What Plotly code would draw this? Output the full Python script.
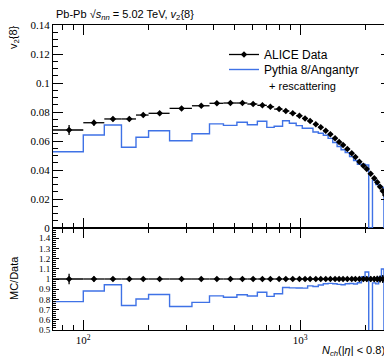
import plotly.graph_objects as go

# ---------------- data ----------------
bin_edges = [70, 100, 125, 150, 175, 200, 250, 317, 382, 443, 511, 571, 635, 702, 759,
             830, 892, 959, 1023, 1083, 1146, 1213, 1279, 1346, 1414, 1481, 1545, 1614,
             1690, 1764, 1837, 1917, 1993, 2072, 2156, 2232, 2302, 2371, 2435, 2495, 2551, 2605]

alice_x = [86, 112, 137, 163, 189, 225, 284, 350, 413, 477, 542, 607, 670, 729, 800, 859,
           925, 993, 1054, 1112, 1181, 1245, 1313, 1379, 1449, 1513, 1578, 1651, 1730, 1798,
           1876, 1958, 2029, 2116, 2197, 2268, 2337, 2405, 2466, 2525, 2578]

alice_v2 = [0.0676, 0.0726, 0.0752, 0.0752, 0.0779, 0.0791, 0.0825, 0.0843, 0.0860, 0.0862,
            0.0862, 0.0855, 0.0846, 0.0836, 0.0820, 0.0807, 0.0791, 0.0774, 0.0756, 0.0738,
            0.0715, 0.0694, 0.0671, 0.0646, 0.0619, 0.0593, 0.0572, 0.0545, 0.0515, 0.0490,
            0.0457, 0.0430, 0.0407, 0.0374, 0.0343, 0.0315, 0.0285, 0.0255, 0.0228, 0.0205,
            0.0181]

alice_err = [0.0035, 0.0020, 0.0015, 0.0015, 0.0015, 0.0012, 0.0012, 0.0010, 0.0010, 0.0010,
             0.0010, 0.0010, 0.0010, 0.0010, 0.0010, 0.0010, 0.0010, 0.0010, 0.0010, 0.0010,
             0.0010, 0.0010, 0.0010, 0.0010, 0.0010, 0.0010, 0.0010, 0.0010, 0.0010, 0.0010,
             0.0010, 0.0010, 0.0010, 0.0010, 0.0010, 0.0010, 0.0010, 0.0010, 0.0010, 0.0010,
             0.0010]

pythia_v2 = [0.0526, 0.0641, 0.0710, 0.0557, 0.0626, 0.0671, 0.0602, 0.0650, 0.0718, 0.0708,
             0.0729, 0.0712, 0.0736, 0.0694, 0.0702, 0.0740, 0.0722, 0.0706, 0.0688, 0.0688,
             0.0662, 0.0653, 0.0640, 0.0618, 0.0590, 0.0562, 0.0540, 0.0520, 0.0492, 0.0466,
             0.0440, 0.0440, 0.0435, 0.0000, 0.0330, 0.0300, 0.0290, 0.0280, 0.0000, 0.0195,
             0.0170]

top_ticks = [0, 0.02, 0.04, 0.06, 0.08, 0.10, 0.12, 0.14]
top_ticktext = ["0", "0.02", "0.04", "0.06", "0.08", "0.1", "0.12", "0.14"]
ratio_ticks = [0.5, 0.6, 0.7, 0.8, 0.9, 1.0, 1.1, 1.2, 1.3, 1.4]
ratio_ticktext = ["0.5", "0.6", "0.7", "0.8", "0.9", "1", "1.1", "1.2", "1.3", "1.4"]
x_major = [100, 1000]
x_major_text = ["10<sup>2</sup>", "10<sup>3</sup>"]
x_minor = [80, 90, 200, 300, 400, 500, 600, 700, 800, 900, 2000]

# ---------------- derived ----------------
err_plus = [bin_edges[i + 1] - x for i, x in enumerate(alice_x)]
err_minus = [x - bin_edges[i] for i, x in enumerate(alice_x)]
hist_x = bin_edges[:]
hist_y = pythia_v2 + [pythia_v2[-1]]
ratio_mc = [m / d for m, d in zip(pythia_v2, alice_v2)]
ratio_hist = ratio_mc + [ratio_mc[-1]]
ratio_data = [1.0 for _ in alice_v2]
ratio_err = [e / d for e, d in zip(alice_err, alice_v2)]

BLUE = "#3f72e6"
SANS = "Liberation Sans"
SERIF = "Liberation Serif"
MSIZE = 5

# page coordinates of the plot area (the page body adds an 8 px offset)
PX_L, PX_R, PX_T, PX_B = 53, 391, 25, 330
PW, PH = PX_R - PX_L, PX_B - PX_T


def px(xp):
    return (xp - PX_L) / PW


def py(yp):
    return (PX_B - yp) / PH


fig = go.Figure()

# top panel
fig.add_trace(go.Scatter(
    x=hist_x, y=hist_y, mode="lines", line=dict(color=BLUE, width=1.4, shape="hv"),
    xaxis="x2", yaxis="y2", name="Pythia 8/Angantyr", showlegend=False))
fig.add_trace(go.Scatter(
    x=alice_x, y=alice_v2, mode="markers",
    marker=dict(symbol="diamond", size=MSIZE, color="black"),
    error_x=dict(type="data", array=err_plus, arrayminus=err_minus, color="black",
                 thickness=1.3, width=0),
    error_y=dict(type="data", array=alice_err, color="black", thickness=1.3, width=0),
    xaxis="x2", yaxis="y2", name="ALICE Data", showlegend=False))

# legend-only entries
fig.add_trace(go.Scatter(
    x=[None], y=[None], mode="lines+markers", line=dict(color="black", width=1.3),
    marker=dict(symbol="diamond", size=MSIZE, color="black"),
    xaxis="x2", yaxis="y2", name="ALICE Data", legend="legend"))
fig.add_trace(go.Scatter(
    x=[None], y=[None], mode="lines", line=dict(color=BLUE, width=1.4),
    xaxis="x2", yaxis="y2", name="Pythia 8/Angantyr", legend="legend2"))

# ratio panel
fig.add_trace(go.Scatter(
    x=hist_x, y=ratio_hist, mode="lines", line=dict(color=BLUE, width=1.4, shape="hv"),
    xaxis="x", yaxis="y", showlegend=False))
fig.add_trace(go.Scatter(
    x=alice_x, y=ratio_data, mode="markers",
    marker=dict(symbol="diamond", size=MSIZE, color="black"),
    error_x=dict(type="data", array=err_plus, arrayminus=err_minus, color="black",
                 thickness=1.3, width=0),
    error_y=dict(type="data", array=ratio_err, color="black", thickness=1.3, width=0),
    xaxis="x", yaxis="y", showlegend=False))

ratio_frac = 102 / 305
xr = [1.8603, 3.4191]

common_x = dict(type="log", range=xr, showline=True, linecolor="black", linewidth=1,
                mirror="allticks", ticks="inside", ticklen=10, tickwidth=1, tickcolor="black",
                tickvals=x_major, showgrid=False, zeroline=False,
                minor=dict(tickvals=x_minor, ticks="inside", ticklen=5, tickwidth=1,
                           tickcolor="black", showgrid=False))

leg_common = dict(xanchor="left", yanchor="top", bgcolor="rgba(0,0,0,0)",
                  font=dict(family=SANS, size=12), itemwidth=30, tracegroupgap=0)

fig.update_layout(
    width=384, height=353,
    margin=dict(l=45, r=1, t=17, b=31),
    paper_bgcolor="white", plot_bgcolor="white",
    font=dict(family=SANS, size=12, color="black"),
    xaxis=dict(common_x, anchor="y", domain=[0, 1], ticktext=x_major_text,
               showticklabels=True, tickfont=dict(family=SERIF, size=11)),
    xaxis2=dict(common_x, anchor="y2", domain=[0, 1], matches="x", showticklabels=False),
    yaxis=dict(domain=[0, ratio_frac], range=[0.5, 1.5], tickvals=ratio_ticks,
               ticktext=ratio_ticktext, showline=True, linecolor="black", linewidth=1,
               mirror="allticks", ticks="inside", ticklen=6, tickwidth=1, tickcolor="black",
               tickfont=dict(family=SERIF, size=9), showgrid=False, zeroline=False,
               minor=dict(dtick=0.02, ticks="inside", ticklen=3, tickwidth=1,
                          tickcolor="black", showgrid=False)),
    yaxis2=dict(domain=[ratio_frac, 1], range=[0, 0.14], tickvals=top_ticks,
                ticktext=top_ticktext, showline=True, linecolor="black", linewidth=1,
                mirror="allticks", ticks="inside", ticklen=10, tickwidth=1, tickcolor="black",
                tickfont=dict(family=SERIF, size=11), showgrid=False, zeroline=False,
                minor=dict(dtick=0.005, ticks="inside", ticklen=5, tickwidth=1,
                           tickcolor="black", showgrid=False)),
    legend=dict(leg_common, x=px(224), y=py(40)),
    legend2=dict(leg_common, x=px(224), y=py(55)),
    annotations=[
        dict(text="Pb-Pb √<i>s</i><sub><i>nn</i></sub> = 5.02 TeV, <i>v</i><sub>2</sub>{8}",
             xref="paper", yref="paper", x=px(54), y=py(15),
             xanchor="left", yanchor="middle", showarrow=False,
             font=dict(family=SANS, size=11)),
        dict(text="v<sub>2</sub>{8}", xref="paper", yref="paper",
             x=px(14), y=py(23), xanchor="center", yanchor="top",
             textangle=-90, showarrow=False, font=dict(family=SANS, size=11)),
        dict(text="MC/Data", xref="paper", yref="paper",
             x=px(14), y=py(278), xanchor="center", yanchor="middle",
             textangle=-90, showarrow=False, font=dict(family=SANS, size=11)),
        dict(text="<i>N<sub>ch</sub></i>(|<i>η</i>| < 0.8)", xref="paper", yref="paper",
             x=px(387), y=py(351), xanchor="right", yanchor="middle",
             showarrow=False, font=dict(family=SANS, size=11)),
        dict(text="+ rescattering", xref="paper", yref="paper",
             x=px(267), y=py(86), xanchor="left", yanchor="middle",
             showarrow=False, font=dict(family=SANS, size=11)),
    ],
)

fig.write_html("out.html")
